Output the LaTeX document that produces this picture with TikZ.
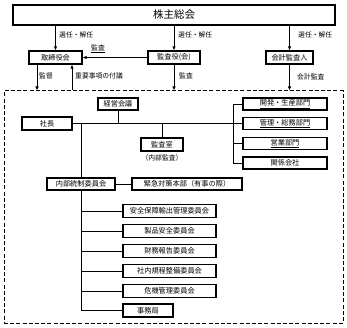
\documentclass[tikz,border=0pt]{standalone}
\usepackage{fontspec}
\newfontfamily\jp{Noto Sans CJK JP}
\usetikzlibrary{arrows.meta}
\begin{document}
\begin{tikzpicture}[x=1pt,y=-1pt,
  box/.style={draw,line width=1.2pt,inner sep=0pt,font=\jp\fontsize{7.2}{8}\selectfont},
  conn/.style={line width=0.8pt},
  arr/.style={conn,-{Latex[length=4pt,width=3.5pt]}},
  lbl/.style={font=\jp\fontsize{6.8}{8}\selectfont,inner sep=0pt,anchor=west}]
\useasboundingbox[fill=white] (0,0) rectangle (347,328);
% top
\node[box,minimum width=322pt,minimum height=20pt,font=\jp\fontsize{10.5}{12}\selectfont] (sh) at (174,15) {株主総会};
\node[box,minimum width=53pt,minimum height=13pt] (tor) at (55.5,57.5) {取締役会};
\node[box,minimum width=52pt,minimum height=13pt] (kan) at (174,57.5) {監査役(会)};
\node[box,minimum width=47pt,minimum height=13pt] (kai) at (289.5,57.5) {会計監査人};
\draw[arr] (sh.south -| tor) -- (tor.north);
\draw[arr] (sh.south -| kan) -- (kan.north);
\draw[arr] (sh.south -| kai) -- (kai.north);
\node[lbl] (l1) at (59,35) {選任・解任};
\node[lbl] (l2) at (178,35) {選任・解任};
\node[lbl] (l3) at (298,35) {選任・解任};
\draw[arr] (kan.west) -- (tor.east);
\node[lbl] (l4) at (91,49) {\underline{監査}};
% dashed frame
\node[draw,dashed,line width=1pt,dash pattern=on 4pt off 2.2pt,minimum width=339pt,minimum height=232pt,inner sep=0pt] (org) at (173.5,207) {};
\coordinate (c1) at (37,0);
\coordinate (c2) at (72,0);
\draw[arr] (tor.south -| c1) -- (org.north -| c1);
\draw[arr] (org.north -| c2) -- (tor.south -| c2);
\draw[arr] (kan.south) -- (org.north -| kan);
\draw[arr] (kai.south) -- (org.north -| kai);
\node[lbl] (l5) at (39,76) {監督};
\node[lbl] (l6) at (75,76) {重要事項の付議};
\node[lbl] (l7) at (179,76) {監査};
\node[lbl] (l8) at (297,77) {会計監査};
% inner
\node[box,minimum width=40pt,minimum height=12pt] (kk) at (118,104) {経営会議};
\node[box,minimum width=50pt,minimum height=13pt] (sc) at (47,123.5) {社長};
\node[box,minimum width=42pt,minimum height=13pt] (ks) at (162,144.5) {監査室};
\node[lbl,anchor=center] (nb) at (162,157.5) {（内部監査）};
\node[box,minimum width=84pt,minimum height=12pt] (r1) at (285,104) {\underline{開発・生産部門}};
\node[box,minimum width=84pt,minimum height=12pt] (r2) at (285,123.5) {\underline{管理・総務部門}};
\node[box,minimum width=84pt,minimum height=12pt] (r3) at (285,143.5) {\underline{営業部門}};
\node[box,minimum width=84pt,minimum height=12pt] (r4) at (285,163) {関係会社};
\coordinate (br) at (233,123.5);
\draw[conn] (sc.east) -- (br);
\draw[conn] (kk.south) -- (kk.south |- br);
\draw[conn] (ks.north |- br) -- (ks.north);
\draw[conn] (r1.west) -- (r1.west -| br) -- (r4.west -| br) -- (r4.west);
\draw[conn] (r2.west -| br) -- (r2.west);
\draw[conn] (r3.west -| br) -- (r3.west);
\node[box,minimum width=68pt,minimum height=12pt] (nt) at (81,184) {内部統制委員会};
\node[box,minimum width=110pt,minimum height=12pt] (kn) at (187,184) {緊急対策本部（有事の際）};
\draw[conn] (nt |- br) -- (nt.north);
\draw[conn] (nt.east) -- (kn.west);
\node[box,minimum width=93pt,minimum height=13pt] (s1) at (169.5,211) {安全保障輸出管理委員会};
\node[box,minimum width=93pt,minimum height=13pt] (s2) at (169.5,231) {製品安全委員会};
\node[box,minimum width=93pt,minimum height=13pt] (s3) at (169.5,251) {財務報告委員会};
\node[box,minimum width=93pt,minimum height=13pt] (s4) at (169.5,271) {社内規程整備委員会};
\node[box,minimum width=93pt,minimum height=13pt] (s5) at (169.5,291) {危機管理委員会};
\node[box,minimum width=50pt,minimum height=13pt] (s6) at (148,310.5) {事務局};
\draw[conn] (nt.south) -- (nt.south |- s6.west) -- (s6.west);
\foreach \s in {s1,s2,s3,s4,s5} \draw[conn] (nt.south |- \s.west) -- (\s.west);
\end{tikzpicture}
\end{document}
